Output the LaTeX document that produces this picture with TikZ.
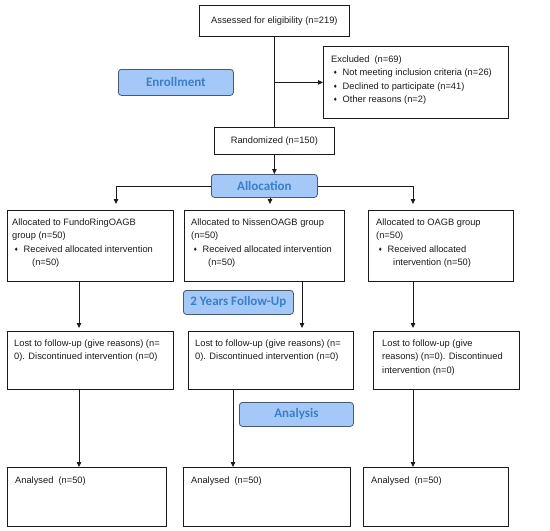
\documentclass[tikz,border=0pt]{standalone}
\usepackage{fontspec}
\setmainfont{Liberation Sans}
\newfontfamily\stagefont{Carlito}
\newfontfamily\symfont{DejaVu Sans}
\usepackage{xcolor}
\usepackage{tikz}
\usetikzlibrary{positioning, arrows.meta}
\definecolor{cBlue}{HTML}{A4C8F7}
\definecolor{cBlueText}{HTML}{3A80C8}
\definecolor{cBlueLine}{HTML}{475A72}
\definecolor{cInk}{HTML}{1A1A1A}
\newcommand{\dmd}{{\symfont\fontsize{5}{5}\selectfont\raisebox{1pt}{♦}}}
\tikzset{
  flowbox/.style={draw=cInk, line width=0.8pt, inner sep=0pt, anchor=north west,
    font=\fontsize{9.3}{13.5}\selectfont, text=cInk},
  stagebox/.style={draw=cBlueLine, fill=cBlue, line width=0.8pt, rounded corners=3pt,
    inner sep=0pt, anchor=north west, font=\stagefont\bfseries\fontsize{13}{15}\selectfont,
    text=cBlueText},
  flowtxt/.style={inner sep=0pt, anchor=north west, align=left,
    font=\fontsize{9.3}{13.5}\selectfont, text=cInk},
  flowline/.style={line width=0.8pt, draw=cInk},
  flowarr/.style={flowline, -{Triangle[length=5pt,width=4.5pt]}},
}

\begin{document}
\begin{tikzpicture}[x=1pt, y=-1pt]
  \useasboundingbox (0,0) rectangle (550,531);
  \node[flowbox, minimum width=150pt, minimum height=31pt] (assess) at (199,5) {Assessed for eligibility (n=219)};
  \node[flowbox, minimum width=185pt, minimum height=72pt] (excl) at (323,46) {};
  \node[flowtxt] (exclt) at ([shift={(8,9.5)}]excl.north west)
    {Excluded\ \ (n=69)\\
     \hspace{2pt}\dmd\hspace{5pt}Not meeting inclusion criteria (n=26)\\
     \hspace{2pt}\dmd\hspace{5pt}Declined to participate (n=41)\\
     \hspace{2pt}\dmd\hspace{5pt}Other reasons (n=2)};
  \node[stagebox, minimum width=115pt, minimum height=26pt] (enroll) at (118,69) {Enrollment};
  \node[flowbox, minimum width=120pt, minimum height=27pt] (rand) at (214,127) {Randomized (n=150)};
  \node[stagebox, minimum width=106pt, minimum height=23pt] (alloc) at (211,174) {Allocation};

  \node[flowbox, minimum width=166pt, minimum height=71pt] (gA) at (7,210) {};
  \node[flowbox, minimum width=160pt, minimum height=71pt] (gB) at (184,210) {};
  \node[flowbox, minimum width=145pt, minimum height=71pt] (gC) at (368,210) {};
  \node[flowtxt] (gAt) at ([shift={(5,8.5)}]gA.north west)
    {Allocated to FundoRingOAGB\\group (n=50)\\
     \hspace{2pt}\dmd\hspace{5pt}Received allocated intervention\\\hspace{20pt}(n=50)};
  \node[flowtxt] (gBt) at ([shift={(7,8.5)}]gB.north west)
    {Allocated to NissenOAGB group\\(n=50)\\
     \hspace{2pt}\dmd\hspace{5pt}Received allocated intervention\\\hspace{17pt}(n=50)};
  \node[flowtxt] (gCt) at ([shift={(8,8.5)}]gC.north west)
    {Allocated to OAGB group\\(n=50)\\
     \hspace{2pt}\dmd\hspace{5pt}Received allocated\\\hspace{17pt}intervention (n=50)};

  \node[stagebox, minimum width=110pt, minimum height=24pt] (follow) at (183,290) {2 Years Follow-Up};

  \node[flowbox, minimum width=166pt, minimum height=58pt] (lA) at (7,331) {};
  \node[flowbox, minimum width=165pt, minimum height=58pt] (lB) at (188,331) {};
  \node[flowbox, minimum width=146pt, minimum height=58pt] (lC) at (373,331) {};
  \node[flowtxt] (lAt) at ([shift={(7,8.5)}]lA.north west)
    {Lost to follow-up (give reasons) (n=\\0). Discontinued intervention (n=0)};
  \node[flowtxt] (lBt) at ([shift={(7,8.5)}]lB.north west)
    {Lost to follow-up (give reasons) (n=\\0). Discontinued intervention (n=0)};
  \node[flowtxt] (lCt) at ([shift={(9,8.5)}]lC.north west)
    {Lost to follow-up (give\\reasons) (n=0). Discontinued\\intervention (n=0)};

  \node[stagebox, minimum width=114pt, minimum height=24pt] (analysis) at (239,402) {Analysis};

  \node[flowbox, minimum width=159pt, minimum height=59pt] (aA) at (7,467) {};
  \node[flowbox, minimum width=167pt, minimum height=59pt] (aB) at (183,467) {};
  \node[flowbox, minimum width=145pt, minimum height=59pt] (aC) at (363,467) {};
  \node[flowtxt] (aAt) at ([shift={(8,9.5)}]aA.north west) {Analysed\ \ (n=50)};
  \node[flowtxt] (aBt) at ([shift={(8,9.5)}]aB.north west) {Analysed\ \ (n=50)};
  \node[flowtxt] (aCt) at ([shift={(8,9.5)}]aC.north west) {Analysed\ \ (n=50)};

  \coordinate (pA) at (116,0);
  \coordinate (pB) at (270,0);
  \coordinate (pC) at (413,0);
  \coordinate (cA) at (79,0);
  \coordinate (cB) at (302,0);
  \coordinate (dB) at (233,0);

  \draw[flowline] (assess.south) -- (rand.north);
  \draw[flowarr] (assess.south |- excl.west) -- (excl.west);
  \draw[flowarr] (rand.south) -- (rand.south |- alloc.north);
  \draw[flowarr, shorten >=6pt] (alloc.west) -| (pA |- gA.north);
  \draw[flowarr, shorten >=6pt] (pB |- alloc.south) -- (pB |- gB.north);
  \draw[flowarr, shorten >=6pt] (alloc.east) -| (pC |- gC.north);

  \draw[flowarr, shorten >=3pt] (cA |- gA.south) -- (cA |- lA.north);
  \draw[flowarr, shorten >=3pt] (cB |- gB.south) -- (cB |- lB.north);
  \draw[flowarr, shorten >=3pt] (pC |- gC.south) -- (pC |- lC.north);

  \draw[flowarr] (cA |- lA.south) -- (cA |- aA.north);
  \draw[flowarr] (dB |- lB.south) -- (dB |- aB.north);
  \draw[flowarr] (pC |- lC.south) -- (pC |- aC.north);
\end{tikzpicture}
\end{document}
